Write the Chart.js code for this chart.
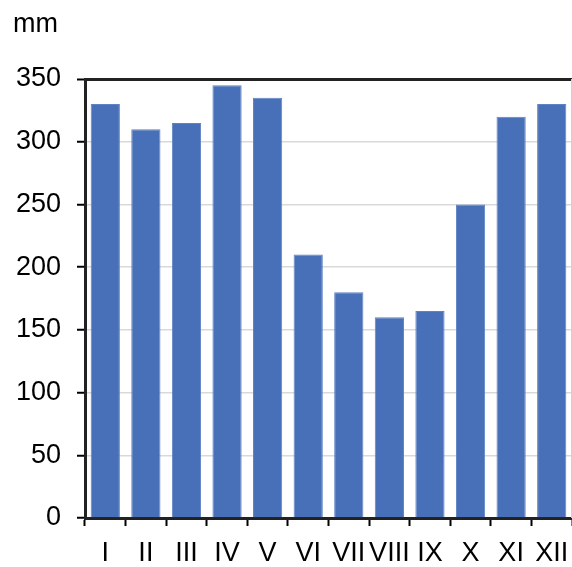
<!DOCTYPE html>
<html>
<head>
<meta charset="utf-8">
<script src="https://cdn.jsdelivr.net/npm/chart.js@4/dist/chart.umd.min.js"></script>
<style>
  html, body { margin: 0; padding: 0; background: #fff; }
  #wrap { width: 572px; height: 567px; position: relative; }
</style>
</head>
<body>
<div id="wrap"><canvas id="chart" width="572" height="567"></canvas></div>
<script>
// months (roman numerals) and monthly values in mm
var months = ['I', 'II', 'III', 'IV', 'V', 'VI', 'VII', 'VIII', 'IX', 'X', 'XI', 'XII'];
var values = [330, 310, 315, 345, 335, 210, 180, 160, 165, 250, 320, 330];
var yTicks = [0, 50, 100, 150, 200, 250, 300, 350];
var unitLabel = 'mm';

var FONT = 'Liberation Sans, Arial, sans-serif';
var FSIZE = 27;

// "mm" label + light right border of the plot box
var extras = {
    id: 'extras',
    afterDraw: function(chart) {
        var ctx = chart.ctx;
        var a = chart.chartArea;
        ctx.save();
        ctx.strokeStyle = '#d0d0d0';
        ctx.lineWidth = 1;
        ctx.beginPath();
        ctx.moveTo(a.right - 0.5, a.top);
        ctx.lineTo(a.right - 0.5, a.bottom);
        ctx.stroke();
        ctx.fillStyle = '#000';
        ctx.font = FSIZE + 'px ' + FONT;
        ctx.textBaseline = 'alphabetic';
        ctx.textAlign = 'left';
        ctx.fillText(unitLabel, 13, 32);
        ctx.restore();
    }
};

var ctx = document.getElementById('chart').getContext('2d');
new Chart(ctx, {
    type: 'bar',
    data: {
        labels: months,
        datasets: [{
            data: values,
            backgroundColor: '#4870b8',
            borderColor: '#5f82c4',
            borderWidth: 1,
            barPercentage: 0.72,
            categoryPercentage: 1
        }]
    },
    options: {
        responsive: false,
        animation: false,
        layout: { padding: { top: 79, left: 0, right: 0, bottom: 0 } },
        plugins: {
            legend: { display: false },
            tooltip: { enabled: false }
        },
        scales: {
            x: {
                offset: true,
                grid: {
                    offset: true,
                    drawOnChartArea: false,
                    tickLength: 8,
                    tickColor: '#000',
                    tickWidth: 2
                },
                border: { color: '#222', width: 3 },
                ticks: {
                    color: '#000',
                    font: { family: FONT, size: FSIZE },
                    padding: 11,
                    maxRotation: 0,
                    autoSkip: false
                },
                afterFit: function(scale) {
                    scale.height = 49;
                    scale.paddingLeft = 0;
                    scale.paddingRight = 0;
                }
            },
            y: {
                min: 0,
                max: 350,
                afterBuildTicks: function(scale) {
                    scale.ticks = yTicks.map(function(v) { return { value: v }; });
                },
                grid: {
                    color: function(c) { return c.tick && c.tick.value === 350 ? '#222' : '#d9d9d9'; },
                    lineWidth: function(c) { return c.tick && c.tick.value === 350 ? 3 : 1.5; },
                    tickLength: 8,
                    tickColor: '#000',
                    tickWidth: 2
                },
                border: { color: '#222', width: 3 },
                ticks: {
                    color: '#000',
                    font: { family: FONT, size: FSIZE },
                    padding: 16
                },
                afterFit: function(scale) { scale.width = 85; }
            }
        }
    },
    plugins: [extras]
});
</script>
</body>
</html>
